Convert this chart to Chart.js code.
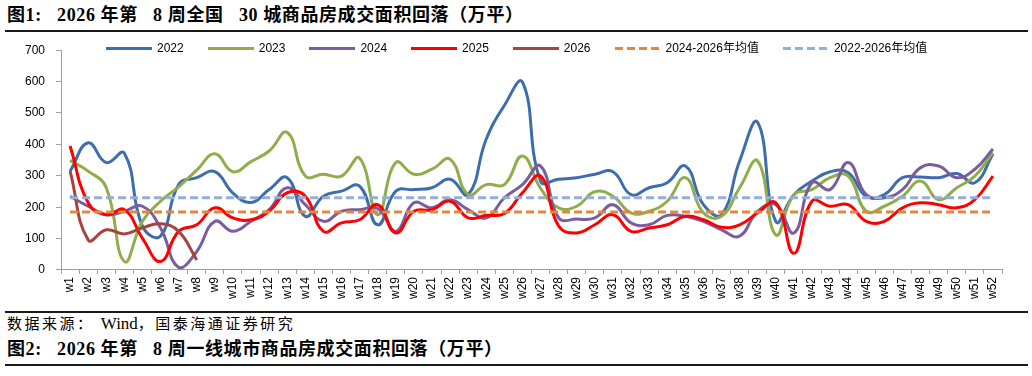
<!DOCTYPE html>
<html>
<head>
<meta charset="utf-8">
<script src="https://cdn.jsdelivr.net/npm/chart.js@4.4.0/dist/chart.umd.min.js"></script>
<style>
  body {
    margin: 0;
    width: 1032px;
    height: 376px;
    background: #fff;
    position: relative;
    overflow: hidden;
  }
  .title {
    position: absolute;
    left: 7px;
    font-family: "Liberation Serif", "Noto Sans CJK SC", serif;
    font-weight: bold;
    font-size: 18px;
    letter-spacing: 0.6px;
    line-height: 20px;
    white-space: pre;
    color: #000;
  }
  #t1 { top: 5px; }
  #t2 { top: 339px; }
  .rule {
    position: absolute;
    left: 5px;
    right: 4px;
    height: 1.5px;
    background: #1a1a1a;
  }
  #src {
    position: absolute;
    left: 7px;
    top: 315px;
    font-family: "Liberation Serif", "Noto Sans CJK SC", serif;
    font-size: 15px;
    letter-spacing: 2.5px;
    line-height: 17px;
    white-space: pre;
    color: #000;
  }
  #src .latin { font-size: 17px; letter-spacing: 0; }
  #wrap {
    position: absolute;
    left: 0;
    top: 32px;
    width: 1032px;
    height: 278px;
  }
  #legend {
    position: absolute;
    left: 106px;
    top: 41px;
    display: flex;
    gap: 24px;
    font-family: "Liberation Sans", Arial, "Noto Sans CJK SC", sans-serif;
    font-size: 12px;
    line-height: 14px;
    color: #000;
  }
  .item { display: flex; align-items: center; }
  .swatch { width: 46px; height: 3px; margin-right: 5px; }
</style>
</head>
<body>

<div class="title" id="t1">图1:   2026 年第   8 周全国   30 城商品房成交面积回落（万平）</div>
<div class="rule" style="top:30px"></div>

<div id="wrap"><canvas id="chart"></canvas></div>
<div id="legend"></div>

<div class="rule" style="top:311px"></div>
<div id="src">数据来源： <span class="latin">Wind</span>，国泰海通证券研究</div>
<div class="title" id="t2">图2:   2026 年第   8 周一线城市商品房成交面积回落（万平）</div>
<div class="rule" style="top:364px"></div>

<script>
// ================= DATA =================
const weeks = [
  "w1", "w2", "w3", "w4", "w5", "w6", "w7", "w8", "w9", "w10",
  "w11", "w12", "w13", "w14", "w15", "w16", "w17", "w18", "w19", "w20",
  "w21", "w22", "w23", "w24", "w25", "w26", "w27", "w28", "w29", "w30",
  "w31", "w32", "w33", "w34", "w35", "w36", "w37", "w38", "w39", "w40",
  "w41", "w42", "w43", "w44", "w45", "w46", "w47", "w48", "w49", "w50",
  "w51", "w52"
];

const yTicks = [0, 100, 200, 300, 400, 500, 600, 700];

const y2022 = [
  315, 405, 342, 372, 140, 108, 272, 294, 313, 245,
  215, 256, 294, 171, 235, 251, 267, 144, 251, 256,
  262, 289, 240, 417, 524, 598, 283, 289, 294, 305,
  313, 240, 262, 278, 331, 208, 176, 347, 470, 155,
  240, 283, 313, 310, 235, 240, 294, 296, 294, 307,
  278, 369
];

const y2023 = [
  349, 315, 262, 27, 155, 219, 265, 318, 370, 313,
  345, 379, 438, 299, 305, 299, 356, 176, 342, 305,
  321, 353, 240, 272, 272, 363, 260, 198, 203, 249,
  235, 182, 187, 219, 294, 182, 171, 262, 347, 112,
  240, 256, 294, 299, 187, 203, 235, 283, 224, 262,
  299, 374
];

const y2024 = [
  235, 203, 176, 187, 203, 134, 8, 59, 155, 123,
  155, 192, 262, 208, 155, 187, 192, 196, 123, 214,
  198, 224, 192, 166, 230, 272, 331, 166, 162, 166,
  208, 150, 144, 174, 171, 155, 128, 108, 187, 208,
  118, 278, 256, 342, 240, 230, 256, 326, 331, 294,
  321, 385
];

const y2025 = [
  395, 214, 176, 192, 101, 27, 123, 144, 198, 166,
  160, 187, 246, 235, 123, 150, 160, 208, 118, 187,
  192, 219, 166, 174, 180, 246, 299, 140, 118, 144,
  176, 123, 134, 144, 171, 160, 136, 144, 182, 214,
  53, 219, 203, 208, 155, 155, 198, 214, 208, 198,
  224, 299
];

const y2026 = [315, 96, 128, 115, 134, 147, 123, 32];

// flat reference lines
const avg2024to2026 = 185;
const avg2022to2026 = 230;

// ================= CHART =================
Chart.defaults.font.family = '"Liberation Sans", Arial, sans-serif';
Chart.defaults.font.size = 12;
Chart.defaults.color = "#000";

function solid(label, data, color, order) {
  return {
    label: label,
    data: data,
    borderColor: color,
    backgroundColor: color,
    borderWidth: 3,
    pointRadius: 0,
    tension: 0.45,
    fill: false,
    order: order
  };
}

function dashed(label, value, color, order) {
  return {
    label: label,
    data: weeks.map(() => value),
    borderColor: color,
    backgroundColor: color,
    borderWidth: 3,
    borderDash: [8, 4],
    pointRadius: 0,
    fill: false,
    order: order
  };
}

const ctx = document.getElementById("chart").getContext("2d");

const chart = new Chart(ctx, {
  type: "line",
  data: {
    labels: weeks,
    datasets: [
      solid("2022", y2022, "#3d6dad", 7),
      solid("2023", y2023, "#8fae4b", 6),
      solid("2024", y2024, "#7a5d9e", 5),
      solid("2025", y2025, "#ff0000", 4),
      solid("2026", y2026, "#a8443f", 3),
      dashed("2024-2026年均值", avg2024to2026, "#e2873f", 2),
      dashed("2022-2026年均值", avg2022to2026, "#94afd7", 1)
    ]
  },
  options: {
    responsive: true,
    maintainAspectRatio: false,
    animation: false,
    layout: {
      padding: { left: 14, right: 30, top: 18, bottom: 8 }
    },
    plugins: {
      legend: { display: false },
      tooltip: { enabled: false }
    },
    scales: {
      x: {
        offset: true,
        grid: {
          offset: true,
          drawOnChartArea: false,
          tickLength: 4,
          color: "#a0a0a0"
        },
        border: { color: "#a0a0a0" },
        ticks: {
          autoSkip: false,
          minRotation: 90,
          maxRotation: 90,
          padding: 3
        }
      },
      y: {
        min: 0,
        max: 700,
        afterBuildTicks: (axis) => {
          axis.ticks = yTicks.map(v => ({ value: v }));
        },
        grid: {
          drawOnChartArea: false,
          tickLength: 5,
          color: "#a0a0a0"
        },
        border: { color: "#a0a0a0" },
        ticks: { padding: 11 }
      }
    }
  }
});

// ================= LEGEND =================
const legend = document.getElementById("legend");

chart.data.datasets.forEach(ds => {
  const item = document.createElement("div");
  item.className = "item";

  const swatch = document.createElement("span");
  swatch.className = "swatch";
  if (ds.borderDash) {
    swatch.style.background =
      `repeating-linear-gradient(90deg, ${ds.borderColor} 0 8px, transparent 8px 12px)`;
  } else {
    swatch.style.background = ds.borderColor;
  }

  const text = document.createElement("span");
  text.innerText = ds.label;

  item.appendChild(swatch);
  item.appendChild(text);
  legend.appendChild(item);
});
</script>
</body>
</html>
